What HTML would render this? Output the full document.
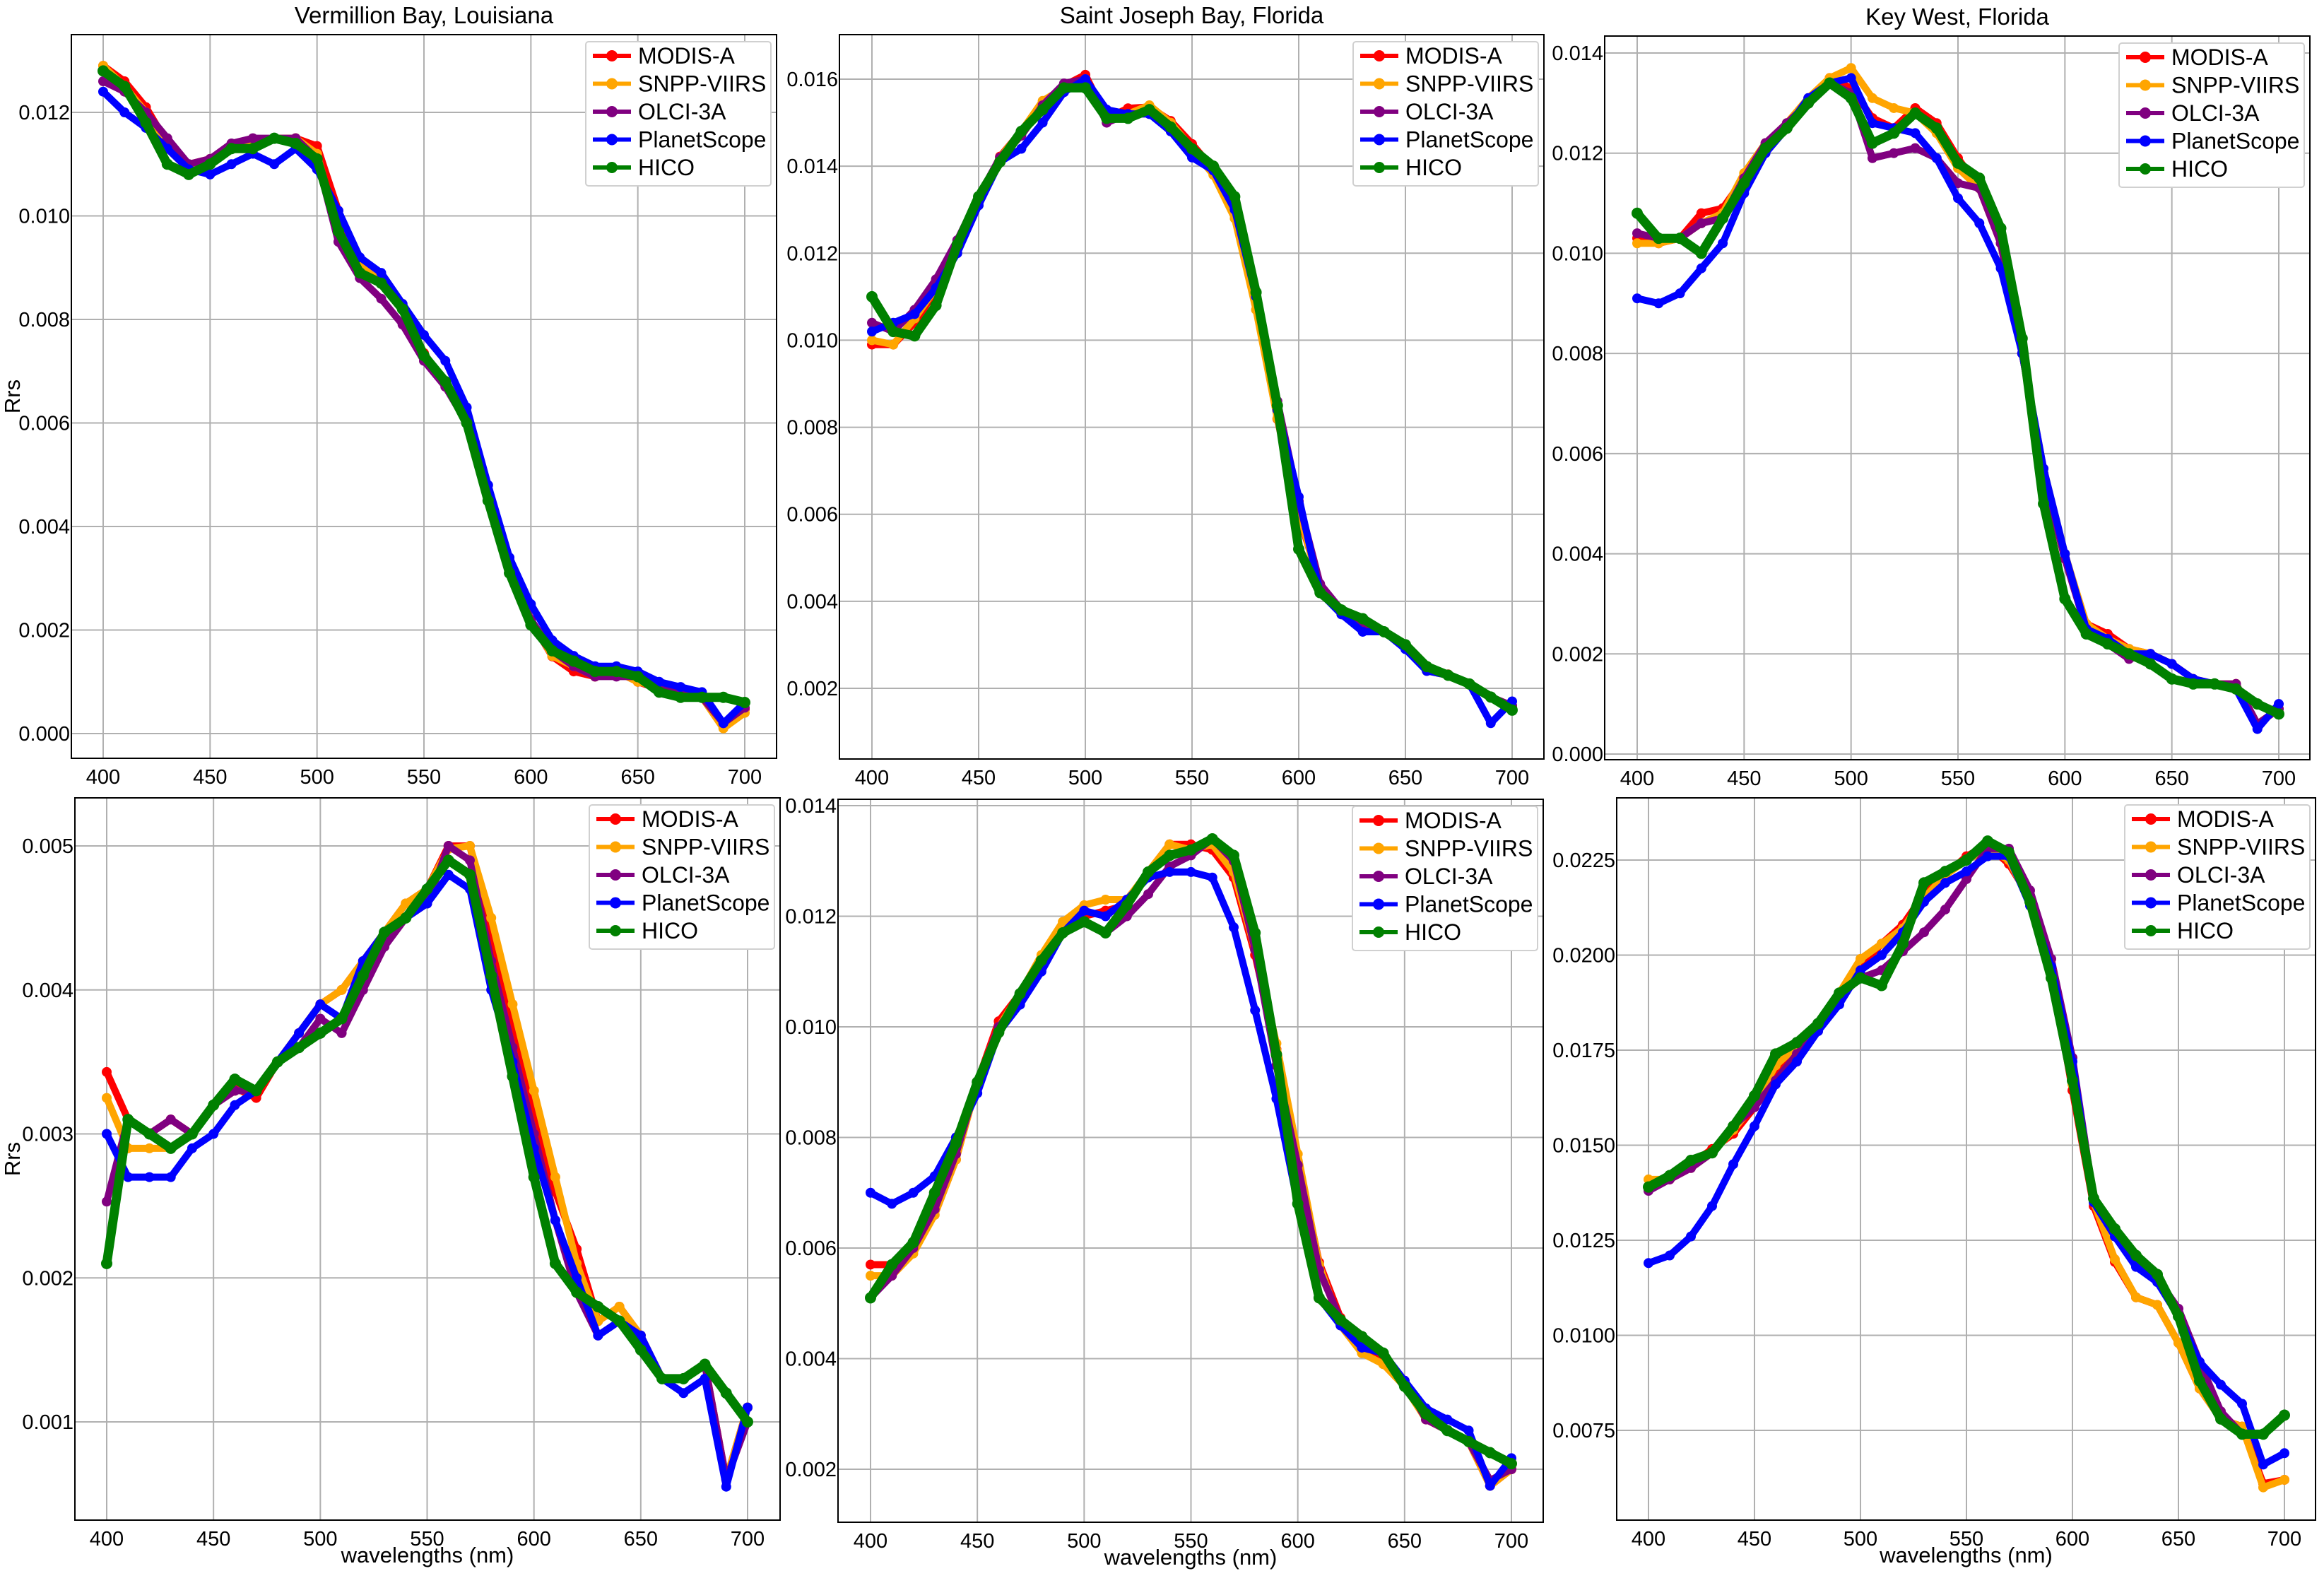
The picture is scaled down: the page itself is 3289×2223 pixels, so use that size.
<!DOCTYPE html>
<html><head><meta charset="utf-8">
<style>
html,body{margin:0;padding:0;background:#fff;}
svg{display:block;font-family:"Liberation Sans",sans-serif;}
</style></head>
<body>
<svg id="fig" width="3289" height="2223" viewBox="0 0 3289 2223" xmlns="http://www.w3.org/2000/svg"></svg>
<script>
// ---- data ----
const wavelengths = [400,410,420,430,440,450,460,470,480,490,500,510,520,530,540,550,560,570,580,590,600,610,620,630,640,650,660,670,680,690,700];
const seriesNames = ["MODIS-A","SNPP-VIIRS","OLCI-3A","PlanetScope","HICO"];
const seriesColors = ["#ff0000","#ffa500","#800080","#0000ff","#008000"];

// Panel 1: Vermillion Bay
const vb_modis = [.0129,.0126,.0121,.0114,.0110,.0111,.0113,.0114,.0115,.0115,.01135,.0101,.00905,.0087,.0082,.00735,.00676,.00608,.00461,.00335,.00218,.00149,.0012,.0011,.0012,.001,.00086,.00076,.00071,.00018,.00047];
const vb_viirs = [.0129,.0125,.0120,.0113,.0109,.0111,.0113,.0114,.0115,.0115,.0112,.0097,.0091,.0088,.0083,.0073,.0068,.0060,.0045,.0033,.0022,.0015,.0013,.0011,.0012,.0010,.0009,.0008,.0007,.0001,.0004];
const vb_olci = [.0126,.0124,.0120,.0115,.0110,.0111,.0114,.0115,.0115,.0115,.0111,.0095,.0088,.0084,.0079,.0072,.0067,.0060,.0045,.0032,.0022,.0016,.0013,.0011,.0011,.0011,.0009,.0008,.0007,.0002,.0005];
const vb_planet = [.0124,.0120,.0117,.0113,.0109,.0108,.0110,.0112,.0110,.0113,.0109,.0101,.0092,.0089,.0083,.0077,.0072,.0063,.0048,.0034,.0025,.0018,.0015,.0013,.0013,.0012,.0010,.0009,.0008,.0002,.0006];
const vb_hico = [.0128,.0125,.0118,.0110,.0108,.0110,.0113,.0113,.0115,.0114,.0111,.0097,.0089,.0087,.0082,.0073,.0068,.0060,.0045,.0031,.0021,.0016,.0014,.0012,.0012,.0011,.0008,.0007,.0007,.0007,.0006];
const vb_ticks = [0,.002,.004,.006,.008,.010,.012];

// Panel 2: Saint Joseph Bay
const sj_modis = [.0099,.0099,.0104,.01115,.01213,.01318,.01422,.0148,.01544,.01585,.0161,.0151,.01533,.01536,.01504,.01451,.01393,.01295,.01086,.00819,.006,.00438,.00378,.00349,.00331,.00297,.00244,.00232,.00209,.0018,.00157];
const sj_viirs = [.0100,.0099,.0105,.0112,.0121,.0131,.0142,.0148,.0155,.0158,.0160,.0151,.0152,.0154,.0150,.0144,.0138,.0128,.0107,.0082,.0061,.0043,.0037,.0034,.0033,.0030,.0024,.0023,.0021,.0018,.0016];
const sj_olci = [.0104,.0102,.0107,.0114,.0123,.0133,.0142,.0147,.0154,.0159,.0160,.0150,.0152,.0152,.0149,.0143,.0140,.0132,.0111,.0086,.0063,.0044,.0038,.0035,.0033,.0030,.0025,.0023,.0021,.0018,.0016];
const sj_planet = [.0102,.0104,.0106,.0112,.0120,.0131,.0141,.0144,.0150,.0157,.0160,.0153,.0152,.0152,.0148,.0142,.0139,.0130,.0110,.0084,.0064,.0042,.0037,.0033,.0033,.0029,.0024,.0023,.0021,.0012,.0017];
const sj_hico = [.0110,.0102,.0101,.0108,.0122,.0133,.0141,.0148,.0153,.0158,.0158,.0151,.0151,.0153,.0149,.0144,.0140,.0133,.0111,.0085,.0052,.0042,.0038,.0036,.0033,.0030,.0025,.0023,.0021,.0018,.0015];
const sj_ticks = [.002,.004,.006,.008,.010,.012,.014,.016];

// Panel 3: Key West
const kw_modis = [.0103,.0102,.0103,.0108,.0109,.0115,.0121,.0125,.0130,.0135,.0133,.0127,.0125,.0129,.0126,.0119,.0113,.0102,.0080,.0056,.0039,.0026,.0024,.0021,.0020,.0018,.0015,.0014,.0014,.0006,.0009];
const kw_viirs = [.0102,.0102,.0103,.0106,.0108,.0116,.0122,.0126,.0131,.0135,.0137,.0131,.0129,.0128,.0124,.0117,.0113,.0102,.0080,.0057,.0040,.0026,.0023,.0021,.0020,.0018,.0015,.0014,.0014,.0006,.0009];
const kw_olci = [.0104,.0103,.0103,.0106,.0107,.0115,.0122,.0126,.0130,.0134,.0132,.0119,.0120,.0121,.0119,.0114,.0113,.0102,.0080,.0056,.0039,.0025,.0022,.0019,.0020,.0018,.0015,.0014,.0014,.0006,.0009];
const kw_planet = [.0091,.0090,.0092,.0097,.0102,.0112,.0120,.0125,.0131,.0134,.0135,.0126,.0125,.0124,.0119,.0111,.0106,.0097,.0080,.0057,.0040,.0025,.0023,.0020,.0020,.0018,.0015,.0014,.0013,.0005,.0010];
const kw_hico = [.0108,.0103,.0103,.0100,.0107,.0114,.0121,.0125,.0130,.0134,.0131,.0122,.0124,.0128,.0125,.0118,.0115,.0105,.0083,.0050,.0031,.0024,.0022,.0020,.0018,.0015,.0014,.0014,.0013,.0010,.0008];
const kw_ticks = [0,.002,.004,.006,.008,.010,.012,.014];

// Panel 4: Vermillion Bay (second date)
const vb2_modis = [.00343,.0031,.0030,.0031,.0030,.0032,.00332,.00325,.0035,.0037,.0039,.0040,.0042,.0044,.0046,.0047,.0050,.0050,.0044,.0038,.0032,.0026,.0022,.0017,.0018,.0016,.0013,.0013,.0014,.0006,.0011];
const vb2_viirs = [.00325,.0029,.0029,.0029,.0030,.0032,.0033,.0033,.0035,.0037,.0039,.0040,.0042,.0044,.0046,.0047,.00498,.0050,.0045,.0039,.0033,.0027,.0021,.0017,.0018,.0016,.0013,.0013,.0014,.0006,.0011];
const vb2_olci = [.00253,.0031,.0030,.0031,.0030,.0032,.0033,.0033,.0035,.0036,.0038,.0037,.0040,.0043,.0045,.0046,.0050,.0049,.0042,.0036,.0030,.0024,.0019,.0016,.0017,.0016,.0013,.0013,.0014,.0006,.0010];
const vb2_planet = [.0030,.0027,.0027,.0027,.0029,.0030,.0032,.0033,.0035,.0037,.0039,.0038,.0042,.0044,.0045,.0046,.0048,.0047,.0040,.0035,.0029,.0024,.0020,.0016,.0017,.0016,.0013,.0012,.0013,.00055,.0011];
const vb2_hico = [.0021,.0031,.0030,.0029,.0030,.0032,.00338,.0033,.0035,.0036,.0037,.0038,.0041,.0044,.0045,.0047,.0049,.0048,.0041,.0034,.0027,.0021,.0019,.0018,.0017,.0015,.0013,.0013,.0014,.0012,.0010];
const vb2_ticks = [.001,.002,.003,.004,.005];

// Panel 5: Saint Joseph Bay (second date)
const sj2_modis = [.0057,.0057,.0060,.0066,.0076,.0090,.0101,.0106,.0112,.0118,.0120,.0121,.0122,.0128,.0133,.0133,.0132,.0127,.0113,.0096,.00757,.00574,.00474,.0042,.0040,.0036,.0029,.0027,.0025,.0017,.0020];
const sj2_viirs = [.0055,.0055,.0059,.0066,.0076,.0090,.0100,.0106,.0113,.0119,.0122,.0123,.0123,.0128,.0133,.0132,.0133,.0128,.0114,.0097,.0077,.0057,.0046,.0041,.0039,.0035,.0029,.0027,.0025,.0017,.0020];
const sj2_olci = [.0051,.0055,.0060,.0067,.0077,.0090,.0100,.0105,.0111,.0117,.0119,.0117,.0120,.0124,.0129,.0131,.0134,.0130,.0114,.0093,.0075,.0056,.0047,.0042,.0041,.0036,.0029,.0027,.0025,.0018,.0020];
const sj2_planet = [.0070,.0068,.0070,.0073,.0080,.0088,.0099,.0104,.0110,.0117,.0121,.0120,.0123,.0127,.0128,.0128,.0127,.0118,.0103,.0087,.0068,.0051,.0046,.0042,.0041,.0036,.0031,.0029,.0027,.0017,.0022];
const sj2_hico = [.0051,.0057,.0061,.0070,.0079,.0090,.0099,.0106,.0112,.0117,.0119,.0117,.0122,.0128,.0131,.0132,.0134,.0131,.0117,.0095,.0068,.0051,.0047,.0044,.0041,.0035,.0030,.0027,.0025,.0023,.0021];
const sj2_ticks = [.002,.004,.006,.008,.010,.012,.014];

// Panel 6: Key West (second date)
const kw2_modis = [.0139,.0141,.0145,.0149,.0153,.0160,.0170,.0176,.0181,.0189,.0197,.0203,.0208,.0216,.0221,.0226,.0229,.0224,.0215,.01963,.01644,.0134,.01193,.0110,.0108,.0098,.0086,.0078,.0076,.0061,.0062];
const kw2_viirs = [.0141,.0141,.0144,.0148,.0154,.0161,.0171,.0176,.0182,.0190,.0199,.0203,.0207,.0215,.0221,.0225,.0228,.0225,.0214,.0196,.0166,.0135,.0120,.0110,.0108,.0098,.0086,.0078,.0076,.0060,.0062];
const kw2_olci = [.0138,.0141,.0144,.0148,.0155,.0160,.0167,.0174,.0180,.0189,.0194,.0196,.0201,.0206,.0212,.0220,.0228,.0228,.0217,.0199,.0173,.0136,.0128,.0120,.0115,.0107,.0093,.0080,.0074,.0074,.0079];
const kw2_planet = [.0119,.0121,.0126,.0134,.0145,.0155,.0166,.0172,.0180,.0187,.0196,.0200,.0206,.0214,.0219,.0222,.0226,.0226,.0213,.0197,.0172,.0135,.0126,.0118,.0114,.0105,.0093,.0087,.0082,.0066,.0069];
const kw2_hico = [.0139,.0142,.0146,.0148,.0155,.0163,.0174,.0177,.0182,.0190,.0194,.0192,.0203,.0219,.0222,.0225,.0230,.0227,.0214,.0194,.0167,.0136,.0128,.0121,.0116,.0105,.0088,.0078,.0074,.0074,.0079];
const kw2_ticks = [.0075,.0100,.0125,.0150,.0175,.0200,.0225];

const xTicks = [400,450,500,550,600,650,700];

// ---- layout ----
const panels = [
 {name:"vermillion-bay-top",title:"Vermillion Bay, Louisiana",box:[101,49,1099,1073],xp:[146,1054],yref:[0,1038,.012,159],ticks:vb_ticks,dec:3,ylabel:true,xlabel:false,data:[vb_modis,vb_viirs,vb_olci,vb_planet,vb_hico]},
 {name:"saint-joseph-bay-top",title:"Saint Joseph Bay, Florida",box:[1188,49,2185,1074],xp:[1234,2140],yref:[.002,974,.016,112],ticks:sj_ticks,dec:3,ylabel:false,xlabel:false,data:[sj_modis,sj_viirs,sj_olci,sj_planet,sj_hico]},
 {name:"key-west-top",title:"Key West, Florida",box:[2271,51,3269,1075],xp:[2317,3225],yref:[0,1067,.014,75],ticks:kw_ticks,dec:3,ylabel:false,xlabel:false,data:[kw_modis,kw_viirs,kw_olci,kw_planet,kw_hico]},
 {name:"vermillion-bay-bottom",title:"",box:[106,1129,1104,2151],xp:[151,1058],yref:[.001,2012,.005,1197],ticks:vb2_ticks,dec:3,ylabel:true,xlabel:true,data:[vb2_modis,vb2_viirs,vb2_olci,vb2_planet,vb2_hico]},
 {name:"saint-joseph-bay-bottom",title:"",box:[1186,1131,2184,2154],xp:[1232,2139],yref:[.002,2079,.014,1140],ticks:sj2_ticks,dec:3,ylabel:false,xlabel:true,data:[sj2_modis,sj2_viirs,sj2_olci,sj2_planet,sj2_hico]},
 {name:"key-west-bottom",title:"",box:[2288,1129,3277,2151],xp:[2333,3233],yref:[.0075,2024,.0225,1217],ticks:kw2_ticks,dec:4,ylabel:false,xlabel:true,data:[kw2_modis,kw2_viirs,kw2_olci,kw2_planet,kw2_hico]}
];

const NS="http://www.w3.org/2000/svg";
const svg=document.getElementById('fig');
function mk(tag,attrs,parent){const e=document.createElementNS(NS,tag);for(const k in attrs)e.setAttribute(k,attrs[k]);(parent||svg).appendChild(e);return e;}

panels.forEach(p=>{
  const g=mk('g',{});
  
  
  const [L,T,R,B]=p.box;
  const xs=v=>p.xp[0]+(v-400)/300*(p.xp[1]-p.xp[0]);
  const ys=v=>p.yref[1]+(v-p.yref[0])/(p.yref[2]-p.yref[0])*(p.yref[3]-p.yref[1]);
  mk('rect',{x:L,y:T,width:R-L,height:B-T,fill:'#fff'},g);
  xTicks.forEach(t=>{
    const x=xs(t);
    const gl=mk('line',{x1:x,y1:T,x2:x,y2:B,stroke:'#b0b0b0','stroke-width':2},g);
    
    
    const tl=mk('text',{x:x,y:B+36,'font-size':29,'text-anchor':'middle',fill:'#000'},g);
    tl.textContent=t;
    
    
  });
  p.ticks.forEach(t=>{
    const y=ys(t);
    const gl=mk('line',{x1:L,y1:y,x2:R,y2:y,stroke:'#b0b0b0','stroke-width':2},g);
    
    
    const tl=mk('text',{x:L-2,y:y+10,'font-size':29,'text-anchor':'end',fill:'#000'},g);
    tl.textContent=t.toFixed(p.dec);
    
    
  });
  const cid='clip-'+p.name;
  const cp=mk('clipPath',{id:cid},g);
  mk('rect',{x:L,y:T,width:R-L,height:B-T},cp);
  const sg=mk('g',{'clip-path':'url(#'+cid+')'},g);
  p.data.forEach((arr,si)=>{
    const pts=arr.map((v,i)=>xs(wavelengths[i]).toFixed(1)+','+ys(v).toFixed(1)).join(' ');
    const pl=mk('polyline',{points:pts,fill:'none',stroke:seriesColors[si],'stroke-width':si===4?13:10,'stroke-linejoin':'round','stroke-linecap':'round'},sg);
    
    
    arr.forEach((v,i)=>{
      const c=mk('circle',{cx:xs(wavelengths[i]),cy:ys(v),r:si===4?8:7,fill:seriesColors[si]},sg);
      
      
    });
  });
  const fr=mk('rect',{x:L,y:T,width:R-L,height:B-T,fill:'none',stroke:'#000','stroke-width':2},g);
  
  
  const lg=mk('g',{},g);
  
  
  const bx=R-270, by=T+10;
  mk('rect',{x:bx,y:by,width:262,height:204,rx:4,fill:'#fff',stroke:'#d0d0d0','stroke-width':2},lg);
  seriesNames.forEach((n,si)=>{
    const yy=by+20+si*39.5;
    const le=mk('g',{},lg);
    
    
    mk('line',{x1:bx+10,y1:yy,x2:bx+64,y2:yy,stroke:seriesColors[si],'stroke-width':6},le);
    mk('circle',{cx:bx+37,cy:yy,r:8,fill:seriesColors[si]},le);
    const tx=mk('text',{x:bx+74,y:yy+11,'font-size':32,fill:'#000'},le);
    tx.textContent=n;
  });
  if(p.title){
    const tt=mk('text',{x:(L+R)/2,y:T-16,'font-size':33,'text-anchor':'middle',fill:'#000'},g);
    tt.textContent=p.title;
    
    
  }
  if(p.ylabel){
    const cy=(T+B)/2;
    const yl=mk('text',{x:28,y:cy,'font-size':31,'text-anchor':'middle',fill:'#000',transform:'rotate(-90 28 '+cy+')'},g);
    yl.textContent='Rrs';
    
    
  }
  if(p.xlabel){
    const xl=mk('text',{x:(L+R)/2,y:B+60,'font-size':31,'text-anchor':'middle',fill:'#000'},g);
    xl.textContent='wavelengths (nm)';
    
    
  }
});
</script>
</body></html>
